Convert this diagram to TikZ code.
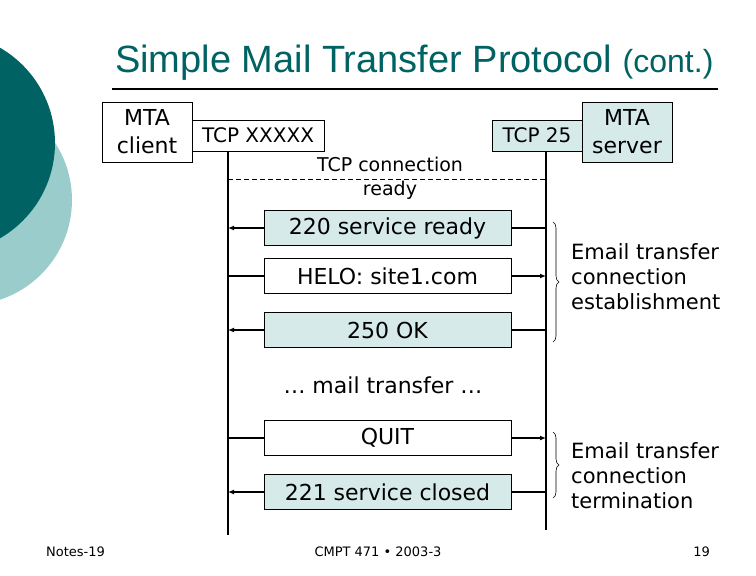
\documentclass[tikz,border=0pt]{standalone}
\usepackage{fontspec}
\setmainfont{DejaVu Sans}
\newfontfamily\titlefont{Liberation Sans}
\usetikzlibrary{arrows.meta,decorations.pathreplacing}
\definecolor{slideteal}{RGB}{0,98,98}
\definecolor{paleteal}{RGB}{155,204,204}
\definecolor{boxteal}{RGB}{214,234,234}
\begin{document}
\begin{tikzpicture}[x=1pt,y=-1pt,
    hostbox/.style={draw, line width=0.8pt, align=center, inner sep=0pt,
        minimum width=90pt, minimum height=60pt, font=\fontsize{22}{28}\selectfont},
    portbox/.style={draw, line width=0.8pt, inner sep=0pt,
        minimum height=31pt, font=\fontsize{20}{24}\selectfont},
    msgbox/.style={draw, line width=0.8pt, inner sep=0pt, minimum width=247pt,
        minimum height=35pt, font=\fontsize{22}{26}\selectfont},
    replybox/.style={msgbox, fill=boxteal},
    msgline/.style={line width=1.6pt},
    msgarrow/.style={msgline, -{Latex[length=6pt,width=5pt]}},
    bracetext/.style={anchor=west, align=left, inner sep=0pt, font=\fontsize{21}{25}\selectfont}]
    \useasboundingbox (0,0) rectangle (756,576);

    % slide decoration
    \fill[paleteal] (-33,200) circle (105pt);
    \fill[slideteal] (-55,143) circle (110pt);

    % title
    \node[anchor=base west, inner sep=0pt, text=slideteal, font=\titlefont\fontsize{38}{44}\selectfont]
        (title) at (115,72) {Simple Mail Transfer Protocol \fontsize{32}{38}\selectfont(cont.)};
    \draw[line width=2pt] (112,89) -- (718,89);

    % hosts and ports
    \node[hostbox] (client) at (147,132) {MTA\\client};
    \node[portbox, minimum width=132pt] (portx) at (258,135.5) {TCP XXXXX};
    \node[portbox, minimum width=90pt, fill=boxteal] (port25) at (537,135.5) {TCP 25};
    \node[hostbox, fill=boxteal] (server) at (627,132) {MTA\\server};

    % lifelines
    \coordinate (ltop) at (228,151);
    \coordinate (lbot) at (228,535);
    \coordinate (rtop) at (546,151);
    \coordinate (rbot) at (546,530);
    \draw[line width=1.2pt] (ltop) -- (lbot);
    \draw[line width=1.2pt] (rtop) -- (rbot);

    % TCP connection
    \coordinate (dashl) at (228,179);
    \coordinate (dashr) at (546,179);
    \draw[dash pattern=on 5pt off 3pt, line width=0.7pt] (dashl) -- (dashr);
    \node[align=center, inner sep=0pt, font=\fontsize{19}{24}\selectfont] (tcpready) at (390,178.5) {TCP connection\\ready};

    % connection establishment
    \node[replybox] (m220) at (387.5,228) {220 service ready};
    \draw[msgline] (rtop |- m220.east) -- (m220.east);
    \draw[msgarrow] (m220.west) -- (ltop |- m220.west);

    \node[msgbox] (helo) at (387.5,276) {HELO: site1.com};
    \draw[msgline] (ltop |- helo.west) -- (helo.west);
    \draw[msgarrow] (helo.east) -- (rtop |- helo.east);

    \node[replybox] (m250) at (387.5,330) {250 OK};
    \draw[msgline] (rtop |- m250.east) -- (m250.east);
    \draw[msgarrow] (m250.west) -- (ltop |- m250.west);

    \node[inner sep=0pt, font=\fontsize{22}{26}\selectfont] (mail) at (383,385) {… mail transfer …};

    % connection termination
    \node[msgbox] (quit) at (387.5,438) {QUIT};
    \draw[msgline] (ltop |- quit.west) -- (quit.west);
    \draw[msgarrow] (quit.east) -- (rtop |- quit.east);

    \node[replybox] (m221) at (387.5,492) {221 service closed};
    \draw[msgline] (rtop |- m221.east) -- (m221.east);
    \draw[msgarrow] (m221.west) -- (ltop |- m221.west);

    % braces
    \coordinate (estop) at (553,222);
    \coordinate (esbot) at (553,342);
    \coordinate (tetop) at (553,432);
    \coordinate (tebot) at (553,498);
    \draw[line width=0.6pt, decorate, decoration={brace, amplitude=6pt}] (estop) -- (esbot);
    \draw[line width=0.6pt, decorate, decoration={brace, amplitude=6pt}] (tetop) -- (tebot);
    \node[bracetext] (estext) at (571,277) {Email transfer\\connection\\establishment};
    \node[bracetext] (tetext) at (571,476) {Email transfer\\connection\\termination};

    % footer
    \node[anchor=west, inner sep=0pt, font=\fontsize{13}{15}\selectfont] (notes) at (46,552) {Notes-19};
    \node[inner sep=0pt, font=\fontsize{13}{15}\selectfont] (course) at (378,552) {CMPT 471 • 2003-3};
    \node[anchor=east, inner sep=0pt, font=\fontsize{13}{15}\selectfont] (page) at (710,552) {19};
\end{tikzpicture}
\end{document}
